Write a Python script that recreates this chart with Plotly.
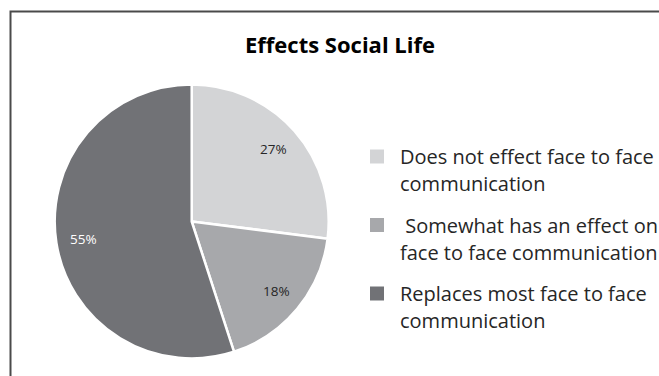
import math
import plotly.graph_objects as go

# Chart data
title = "Effects Social Life"
labels = [
    "Does not effect face to face<br>communication",
    " Somewhat has an effect on<br>face to face communication",
    "Replaces most face to face<br>communication",
]
values = [27, 18, 55]
colors = ["#d3d4d6", "#a7a8ab", "#717276"]
label_colors = ["#262626", "#262626", "#ffffff"]

W, H = 659, 376
FONT = "'Open Sans', Lato, sans-serif"

# Pie geometry in pixels
cx, cy, r = 191.7, 221.5, 137.0


def px(x):
    return x / W


def py(y):
    return 1 - y / H


fig = go.Figure(
    go.Pie(
        labels=labels,
        values=values,
        sort=False,
        direction="clockwise",
        rotation=0,
        marker=dict(colors=colors, line=dict(color="#ffffff", width=2.5)),
        textinfo="none",
        hoverinfo="label+percent",
        showlegend=False,
        domain=dict(x=[px(cx - r), px(cx + r)], y=[py(cy + r), py(cy - r)]),
    )
)

annotations = []
shapes = []

# Percentage labels placed along each slice's mid-angle
total = sum(values)
cum = 0
for v, c in zip(values, label_colors):
    theta = math.radians((cum + v / 2) / total * 360)
    cum += v
    lx = cx + 0.8 * r * math.sin(theta)
    ly = cy - 0.8 * r * math.cos(theta)
    annotations.append(dict(
        x=px(lx), y=py(ly), xref="paper", yref="paper",
        text=f"{round(v / total * 100)}%", showarrow=False,
        font=dict(family=FONT, size=13.5, color=c),
        xanchor="center", yanchor="middle",
    ))

# Legend: square swatch plus two lines of text per category
row0, row_step, line_step = 156.5, 68.5, 27.0
for i, (lab, col) in enumerate(zip(labels, colors)):
    yc = row0 + i * row_step
    shapes.append(dict(
        type="rect", xref="paper", yref="paper",
        x0=px(370), x1=px(384), y0=py(yc - 7), y1=py(yc + 7),
        fillcolor=col, line=dict(width=0),
    ))
    for j, line in enumerate(lab.split("<br>")):
        annotations.append(dict(
            x=px(398), y=py(yc + j * line_step), xref="paper", yref="paper",
            text=line.replace(" ", "&nbsp;", 1) if line.startswith(" ") else line,
            showarrow=False,
            font=dict(family=FONT, size=20, color="#262626"),
            xanchor="left", yanchor="middle",
        ))

# Title
annotations.append(dict(
    x=px(339.5), y=py(44), xref="paper", yref="paper",
    text=f"<b>{title}</b>", showarrow=False,
    font=dict(family=FONT, size=22, color="#000000"),
    xanchor="center", yanchor="middle",
))

# Chart frame running off the right and bottom edges
shapes.append(dict(
    type="rect", xref="paper", yref="paper",
    x0=px(10.5), y0=py(11.5), x1=px(W + 20), y1=py(H + 20),
    line=dict(color="#4a4a4a", width=2), fillcolor="rgba(0,0,0,0)",
))

fig.update_layout(
    width=W, height=H,
    margin=dict(l=0, r=0, t=0, b=0),
    paper_bgcolor="#ffffff",
    plot_bgcolor="#ffffff",
    annotations=annotations,
    shapes=shapes,
    showlegend=False,
)

fig.write_html("out.html")
